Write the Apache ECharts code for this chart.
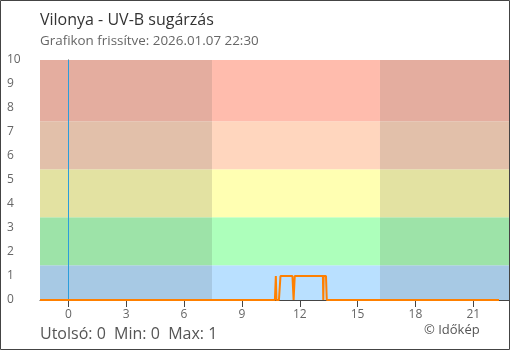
<!DOCTYPE html>
<html>
<head>
<meta charset="utf-8">
<script src="https://cdn.jsdelivr.net/npm/echarts@6/dist/echarts.min.js"></script>
<style>
html,body{margin:0;padding:0;background:#fff;}
#c{width:510px;height:350px;}
</style>
</head>
<body>
<div id="c"></div>
<script>
// Data (hours relative to midnight of 2026.01.07, UV-B index)
var hours = [-1.47, 10.71, 10.76, 10.79, 10.92, 11.0, 11.62, 11.68, 11.74, 13.20, 13.22, 13.24, 13.36, 13.40, 22.33];
var uvValues = [0, 0, 1, 0, 0, 1, 1, 0, 1, 1, 0, 1, 1, 0, 0];
var xTicks = [0, 3, 6, 9, 12, 15, 18, 21];
var sunrise = 7.45, sunset = 16.16;
var bandLimits = [0, 1.45, 3.45, 5.45, 7.45, 10];
var nightColors = ['#a7c9e4', '#9de3a8', '#e3e2a2', '#e2c0aa', '#e4ad9f'];
var dayColors = ['#b9e0ff', '#adffbb', '#ffffb2', '#ffd6be', '#ffbcad'];
var titleText = 'Vilonya - UV-B sugárzás';
var subText = 'Grafikon frissítve: 2026.01.07 22:30';
var stats = {last: 0, min: 0, max: 1};

var xMin = -1.47, xMax = 22.85;
var seriesData = hours.map(function (h, i) { return [h, uvValues[i]]; });

var areas = [];
for (var b = 0; b < 5; b++) {
  areas.push([{xAxis: xMin, yAxis: bandLimits[b], itemStyle: {color: nightColors[b]}}, {xAxis: sunrise, yAxis: bandLimits[b + 1]}]);
  areas.push([{xAxis: sunrise, yAxis: bandLimits[b], itemStyle: {color: dayColors[b]}}, {xAxis: sunset, yAxis: bandLimits[b + 1]}]);
  areas.push([{xAxis: sunset, yAxis: bandLimits[b], itemStyle: {color: nightColors[b]}}, {xAxis: xMax, yAxis: bandLimits[b + 1]}]);
}

var FONT = 'Open Sans';
var chart = echarts.init(document.getElementById('c'), null, {renderer: 'canvas'});
chart.setOption({
  animation: false,
  textStyle: {fontFamily: FONT},
  title: [
    {text: titleText, left: 35, top: 7, textStyle: {fontFamily: FONT, fontSize: 16, fontWeight: 'normal', color: '#333'}},
    {text: subText, left: 35, top: 30, textStyle: {fontFamily: FONT, fontSize: 13.4, fontWeight: 'normal', color: '#666'}},
    {text: 'Utolsó: ' + stats.last + '  Min: ' + stats.min + '  Max: ' + stats.max, left: 35, top: 321, textStyle: {fontFamily: FONT, fontSize: 16, fontWeight: 'normal', color: '#555'}},
    {text: '© Időkép', left: 419, top: 319, textStyle: {fontFamily: FONT, fontSize: 13, fontWeight: 'normal', color: '#555'}}
  ],
  graphic: [{
    type: 'rect', silent: true, z: 100,
    shape: {x: 0.5, y: 0.5, width: 509, height: 349},
    style: {fill: 'none', stroke: '#444', lineWidth: 1}
  }],
  grid: {left: 40, right: 1, top: 60, bottom: 50, containLabel: false},
  xAxis: [{
    type: 'value', min: xMin, max: xMax,
    axisLine: {show: true, onZero: false, lineStyle: {color: '#444', width: 1}},
    axisTick: {show: true, customValues: xTicks, length: 7, lineStyle: {color: '#444'}},
    axisLabel: {show: true, customValues: xTicks, color: '#666', fontSize: 12, margin: 9, fontFamily: FONT},
    splitLine: {show: false}
  }, {
    type: 'value', min: xMin, max: xMax, position: 'bottom',
    axisLine: {show: false},
    axisTick: {show: true, inside: true, customValues: xTicks, length: 6, lineStyle: {color: '#444'}},
    axisLabel: {show: false},
    splitLine: {show: false}
  }],
  yAxis: [{
    type: 'value', min: 0, max: 10, interval: 1,
    axisLine: {show: true, lineStyle: {color: '#444', width: 1}},
    axisTick: {show: true, length: 6, lineStyle: {color: '#444'}},
    axisLabel: {show: true, color: '#666', fontSize: 12, align: 'left', margin: 33, fontFamily: FONT},
    splitLine: {show: false}
  }, {
    type: 'value', min: 0, max: 10, interval: 1, position: 'left',
    axisLine: {show: false},
    axisTick: {show: true, inside: true, length: 6, lineStyle: {color: '#444'}},
    axisLabel: {show: false},
    splitLine: {show: false}
  }],
  series: [{
    type: 'line',
    data: seriesData,
    showSymbol: false,
    symbol: 'none',
    lineStyle: {color: '#ff8000', width: 2},
    itemStyle: {color: '#ff8000'},
    z: 5,
    markArea: {silent: true, z: 1, data: areas},
    markLine: {
      silent: true, symbol: 'none', label: {show: false},
      lineStyle: {color: '#2b9ddb', width: 1, type: 'solid'},
      data: [{xAxis: 0}]
    }
  }]
});
</script>
</body>
</html>
